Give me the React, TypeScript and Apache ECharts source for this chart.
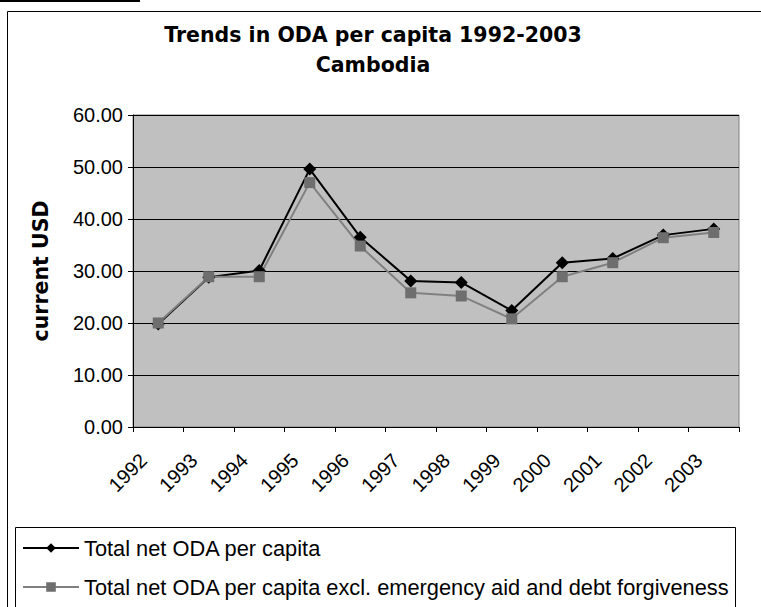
import React, { useEffect, useRef } from "react";
import * as echarts from "echarts";

const years = ["1992","1993","1994","1995","1996","1997","1998","1999","2000","2001","2002","2003"];
const totalOda = [19.8, 28.8, 30.1, 49.6, 36.5, 28.1, 27.8, 22.4, 31.6, 32.4, 36.9, 38.1];
const odaExcl = [20.0, 28.9, 28.9, 47.0, 34.8, 25.8, 25.2, 20.8, 28.9, 31.6, 36.4, 37.4];
const yTicks = { min: 0, max: 60, interval: 10 };
const seriesNames = [
  "Total net ODA per capita",
  "Total net ODA per capita excl. emergency aid and debt forgiveness",
];

export default function App() {
  const ref = useRef<HTMLDivElement>(null);
  useEffect(() => {
    if (!ref.current) return;
    const chart = echarts.init(ref.current, undefined, { renderer: "svg" });
    const font = "'Liberation Sans', Arial, sans-serif";
    const boldFont = "'DejaVu Sans', sans-serif";
    const legendBase = {
      orient: "horizontal",
      left: 17,
      itemWidth: 56,
      itemHeight: 12,
      textStyle: { fontSize: 21.8, color: "#000", fontFamily: font },
    };
    chart.setOption({
      animation: false,
      backgroundColor: "#ffffff",
      textStyle: { fontFamily: font },
      grid: { left: 133, top: 115, width: 606, height: 312, show: true, backgroundColor: "#C0C0C0", borderColor: "#808080", borderWidth: 1 },
      xAxis: {
        type: "category",
        data: years,
        boundaryGap: true,
        axisLine: { lineStyle: { color: "#000", width: 1 } },
        axisTick: { show: true, length: 5, lineStyle: { color: "#000" } },
        axisLabel: { rotate: 45, fontSize: 20, color: "#000", margin: 15, padding: [0, 21, 0, 0], fontFamily: font },
        splitLine: { show: false },
      },
      yAxis: {
        type: "value",
        min: yTicks.min,
        max: yTicks.max,
        interval: yTicks.interval,
        name: "current USD",
        nameLocation: "middle",
        nameGap: 82,
        nameRotate: 90,
        nameTextStyle: { fontSize: 20.5, fontWeight: "bold", color: "#000", fontFamily: boldFont },
        axisLine: { show: true, lineStyle: { color: "#000", width: 1 } },
        axisTick: { show: true, length: 5, lineStyle: { color: "#000" } },
        axisLabel: { fontSize: 20, color: "#000", margin: 10, formatter: (v: number) => v.toFixed(2), fontFamily: font },
        splitLine: { show: true, lineStyle: { color: "#000", width: 1 } },
      },
      legend: [
        { ...legendBase, top: 532, data: [seriesNames[0]] },
        { ...legendBase, top: 571, data: [seriesNames[1]] },
      ],
      series: [
        {
          name: seriesNames[0],
          type: "line",
          data: totalOda,
          symbol: "diamond",
          symbolSize: 13,
          itemStyle: { color: "#000000" },
          lineStyle: { color: "#000000", width: 2 },
        },
        {
          name: seriesNames[1],
          type: "line",
          data: odaExcl,
          symbol: "rect",
          symbolSize: 11,
          itemStyle: { color: "#6E6E6E" },
          lineStyle: { color: "#808080", width: 2 },
        },
      ],
      graphic: [
        { type: "rect", shape: { x: 0, y: 0, width: 140, height: 2 }, style: { fill: "#000" } },
        { type: "rect", shape: { x: 7.5, y: 11.5, width: 800, height: 700 }, style: { fill: "none", stroke: "#000", lineWidth: 1 }, z: -1 },
        { type: "rect", shape: { x: 15.5, y: 527.5, width: 720, height: 100 }, style: { fill: "none", stroke: "#000", lineWidth: 1 } },
        { type: "text", x: 373, y: 35, style: { text: "Trends in ODA per capita 1992-2003", fontSize: 20.5, fontWeight: "bold", fontFamily: boldFont, fill: "#000", textAlign: "center", textVerticalAlign: "middle" } },
        { type: "text", x: 373, y: 65, style: { text: "Cambodia", fontSize: 20.5, fontWeight: "bold", fontFamily: boldFont, fill: "#000", textAlign: "center", textVerticalAlign: "middle" } },
      ],
    });
    return () => chart.dispose();
  }, []);
  return <div ref={ref} style={{ position: "fixed", left: 0, top: 0, width: 761, height: 607 }} />;
}
